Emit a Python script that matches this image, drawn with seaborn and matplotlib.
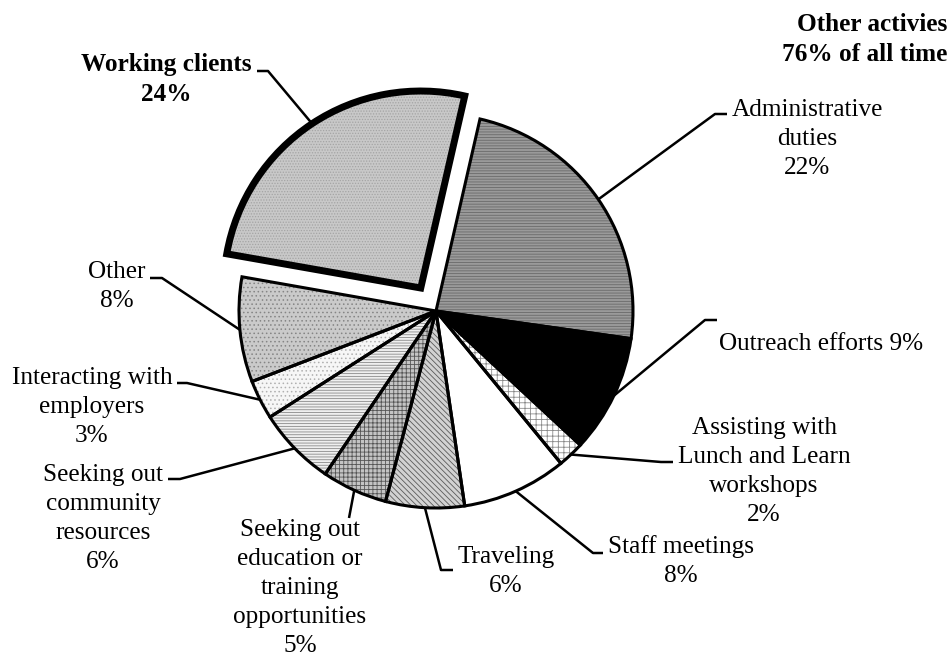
import matplotlib
matplotlib.use("Agg")
import matplotlib.pyplot as plt
import seaborn as sns
import numpy as np

# slices, clockwise starting from the exploded "Working clients" wedge
categories = ["Working clients", "Administrative duties", "Outreach efforts",
              "Assisting with Lunch and Learn workshops", "Staff meetings",
              "Traveling", "Seeking out education or training opportunities",
              "Seeking out community resources", "Interacting with employers",
              "Other"]
shares = [24, 22, 9, 2, 8, 6, 5, 6, 3, 8]
label_texts = ["Working clients\n24%",
               "Administrative\nduties\n22%",
               "Outreach efforts 9%",
               "Assisting with\nLunch and Learn\nworkshops\n2%",
               "Staff meetings\n8%",
               "Traveling\n6%",
               "Seeking out\neducation or\ntraining\nopportunities\n5%",
               "Seeking out\ncommunity\nresources\n6%",
               "Interacting with\nemployers\n3%",
               "Other\n8%"]
title_text = "Other activies\n76% of all time"

# look of each wedge
fills = ["#c8c8c8", "#9a9a9a", "#000000", "#ffffff", "#ffffff",
         "#d2d2d2", "#c4c4c4", "#efefef", "#f6f6f6", "#cacaca"]
hatches = ["......", "------", "", "+++", "",
           "\\\\\\\\\\\\", "++++", "------", "....", "...."]
hatch_colors = ["#a4a4a4", "#6a6a6a", "#000000", "#8a8a8a", "#000000",
                "#5a5a5a", "#555555", "#8a8a8a", "#b0b0b0", "#858585"]
explode = [0.14, 0, 0, 0, 0, 0, 0, 0, 0, 0]

# page geometry in pixels
W, H = 951, 663
CX, CY, R = 436, 311, 197
LINE_PX = 29.3       # distance between text baselines
FONT_SIZE = 18.2
LS = 1.41

# label layout in pixels: text x, first baseline y,
# elbow of the leader line, end of the leader line
label_x = [166, 807, 821, 764, 681, 506, 300, 103, 92, 117]
label_y = [72, 115, 350, 433, 553, 563, 535, 480, 383, 278]
label_bold = [True] + [False] * 9
elbow = [(268, 71), (715, 114), (705, 320), (661, 462), (593, 553),
         (441, 570), (349, 518), (180, 479), (187, 383), (162, 278)]
line_end = [(257, 71), (727, 114), (717, 320), (673, 462), (603, 553),
            (453, 570), (349, 518), (168, 479), (177, 383), (150, 278)]


def to_data(x, y):
    return (x - CX) / R, (CY - y) / R


def put_text(x, y_first, text, ha, bold):
    # va='baseline' pins the last line, so shift down by the extra lines
    n = text.count("\n")
    tx, ty = to_data(x, y_first + n * LINE_PX)
    ax.text(tx, ty, text, ha=ha, va="baseline", multialignment=ha,
            fontsize=FONT_SIZE, linespacing=LS,
            fontweight="bold" if bold else "normal")


sns.set_style("white")
plt.rcParams["font.family"] = ["Liberation Serif", "DejaVu Serif"]
plt.rcParams["text.color"] = "black"
plt.rcParams["hatch.linewidth"] = 0.6

fig = plt.figure(figsize=(W / 100, H / 100), dpi=100)
ax = fig.add_axes([0, 0, 1, 1])

common = dict(startangle=170, counterclock=False, explode=explode, radius=1)

# fills
ax.pie(shares, colors=fills, wedgeprops=dict(linewidth=0), **common)
# textures
hw, _ = ax.pie(shares, colors=["none"] * len(shares), hatch=hatches,
               wedgeprops=dict(linewidth=0), **common)
for w, c in zip(hw, hatch_colors):
    w.set_edgecolor(c)
# outlines
wedges, _ = ax.pie(shares, colors=["none"] * len(shares),
                   wedgeprops=dict(edgecolor="black", linewidth=2.2,
                                   joinstyle="miter"), **common)
wedges[0].set_linewidth(5.0)

for i, w in enumerate(wedges):
    mid = np.deg2rad((w.theta1 + w.theta2) / 2)
    cx, cy = w.center
    r_off = w.r + (0.012 if i == 0 else 0)
    px0 = cx + r_off * np.cos(mid)
    py0 = cy + r_off * np.sin(mid)
    ex, ey = to_data(*elbow[i])
    lx, ly = to_data(*line_end[i])
    ax.plot([px0, ex, lx], [py0, ey, ly], color="black", lw=1.8,
            solid_capstyle="butt", zorder=0.5)
    put_text(label_x[i], label_y[i], label_texts[i], "center", label_bold[i])

put_text(947, 32, title_text, "right", True)

ax.set_xlim(-CX / R, (W - CX) / R)
ax.set_ylim(-(H - CY) / R, CY / R)
ax.set_aspect("equal")
ax.axis("off")

fig.savefig("out.png", dpi=100)
plt.close(fig)
